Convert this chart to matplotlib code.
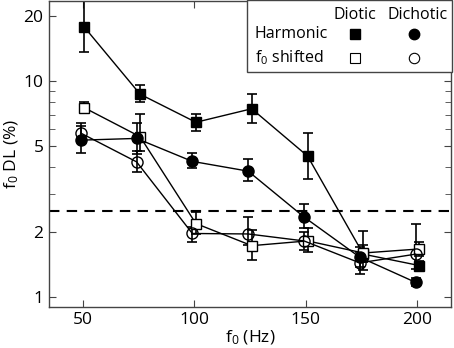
import matplotlib
matplotlib.use("Agg")
import matplotlib.pyplot as plt
from matplotlib.patches import Rectangle
from matplotlib.ticker import FixedLocator, FixedFormatter, NullFormatter, LogLocator

plt.rcParams['font.family'] = ['Open Sans', 'DejaVu Sans']
plt.rcParams['mathtext.fontset'] = 'custom'
plt.rcParams['mathtext.rm'] = 'Open Sans'
plt.rcParams['mathtext.it'] = 'Open Sans'

# f0 in Hz
f0 = [50, 75, 100, 125, 150, 175, 200]

# Harmonic, diotic (filled squares)
harm_diotic = [17.8, 8.7, 6.45, 7.45, 4.5, 1.58, 1.40]
harm_diotic_lo = [13.7, 7.97, 5.87, 6.37, 3.54, 1.33, 1.33]
harm_diotic_hi = [25.0, 9.57, 7.08, 8.7, 5.73, 2.03, 1.47]

# Harmonic, dichotic (filled circles)
harm_dichotic = [5.33, 5.43, 4.25, 3.83, 2.35, 1.53, 1.17]
harm_dichotic_lo = [4.65, 4.6, 3.94, 3.45, 2.08, 1.38, 1.12]
harm_dichotic_hi = [6.2, 6.37, 4.65, 4.35, 2.69, 1.70, 1.22]

# f0 shifted, diotic (open squares)
shift_diotic = [7.53, 5.53, 2.19, 1.73, 1.82, 1.60, 1.67]
shift_diotic_lo = [7.1, 4.75, 1.95, 1.48, 1.62, 1.45, 1.55]
shift_diotic_hi = [8.0, 7.08, 2.48, 2.04, 2.08, 1.75, 1.80]

# f0 shifted, dichotic (open circles)
shift_dichotic = [5.75, 4.23, 1.97, 1.96, 1.82, 1.44, 1.58]
shift_dichotic_lo = [5.3, 3.8, 1.80, 1.75, 1.65, 1.28, 1.35]
shift_dichotic_hi = [6.37, 4.75, 2.10, 2.34, 2.0, 1.62, 2.18]

threshold = 2.5

fig = plt.figure(figsize=(4.54, 3.48), dpi=100)
ax = fig.add_axes([0.108, 0.118, 0.885, 0.879])

def draw(vals, lo, hi, marker, fill, dx):
    xs = [x + dx for x in f0]
    yerr = [[v - l for v, l in zip(vals, lo)], [h - v for v, h in zip(vals, hi)]]
    ax.errorbar(xs, vals, yerr=yerr, fmt='none', ecolor='black', elinewidth=1.2,
                capsize=3.5, capthick=1.2, zorder=2)
    ax.plot(xs, vals, '-', color='black', lw=1.0, marker=marker, ms=8 if marker == 'o' else 7.5,
            mfc=fill, mec='black', mew=1.0, zorder=3)

draw(harm_diotic, harm_diotic_lo, harm_diotic_hi, 's', 'black', 0.8)
draw(shift_diotic, shift_diotic_lo, shift_diotic_hi, 's', 'white', 0.8)
draw(shift_dichotic, shift_dichotic_lo, shift_dichotic_hi, 'o', 'none', -0.8)
draw(harm_dichotic, harm_dichotic_lo, harm_dichotic_hi, 'o', 'black', -0.8)

ax.axhline(threshold, color='black', lw=1.5, ls=(0, (5, 3.5)), zorder=1)

ax.set_yscale('log')
ax.set_xlim(35, 215)
ax.set_ylim(0.9, 23.5)
ax.set_xticks([50, 100, 150, 200])
ax.yaxis.set_major_locator(FixedLocator([1, 2, 5, 10, 20]))
ax.yaxis.set_major_formatter(FixedFormatter(['1', '2', '5', '10', '20']))
ax.yaxis.set_minor_locator(LogLocator(base=10, subs=range(2, 10)))
ax.yaxis.set_minor_formatter(NullFormatter())
ax.tick_params(direction='in', which='both', top=True, right=True, labelsize=12.5,
               color='#444444')
ax.tick_params(axis='x', pad=4)
ax.tick_params(axis='y', pad=4)
ax.tick_params(which='major', length=5)
ax.tick_params(which='minor', length=4)
for s in ax.spines.values():
    s.set_color('#444444')
    s.set_linewidth(1.0)

ax.set_xlabel(r'f$_0$ (Hz)', fontsize=12.5, labelpad=0)
ax.set_ylabel(r'f$_0$ DL (%)', fontsize=12.5, labelpad=2)

# legend table
ax.add_patch(Rectangle((0.4925, 0.769), 0.51, 0.235, transform=ax.transAxes, fill=True,
                       facecolor='white', edgecolor='#444444', lw=1.0, zorder=5, clip_on=False))
ax.text(0.761, 0.955, 'Diotic', transform=ax.transAxes, ha='center', va='center', fontsize=11.5, zorder=6)
ax.text(0.918, 0.955, 'Dichotic', transform=ax.transAxes, ha='center', va='center', fontsize=11.5, zorder=6)
ax.text(0.512, 0.893, 'Harmonic', transform=ax.transAxes, ha='left', va='center', fontsize=11.5, zorder=6)
ax.text(0.512, 0.815, r'f$_0$ shifted', transform=ax.transAxes, ha='left', va='center', fontsize=11.5, zorder=6)
ax.plot([0.761], [0.893], 's', color='black', ms=6.5, transform=ax.transAxes, zorder=6)
ax.plot([0.909], [0.893], 'o', color='black', ms=7.5, transform=ax.transAxes, zorder=6)
ax.plot([0.761], [0.815], 's', mfc='white', mec='black', mew=0.8, ms=6.5, transform=ax.transAxes, zorder=6)
ax.plot([0.909], [0.815], 'o', mfc='white', mec='black', mew=0.8, ms=7.5, transform=ax.transAxes, zorder=6)

fig.savefig('out.png', dpi=100)
